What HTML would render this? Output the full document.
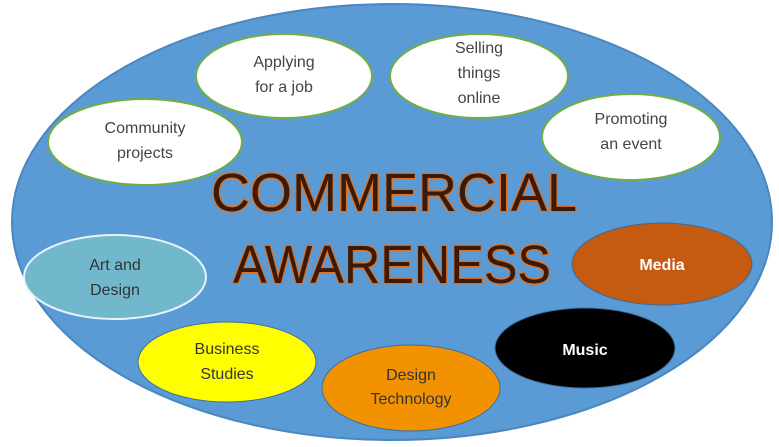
<!DOCTYPE html>
<html><head><meta charset="utf-8"><style>
html,body{margin:0;padding:0;background:#fff;}
svg{display:block;}
text{font-family:"Liberation Sans",sans-serif;}
</style></head><body>
<svg width="779" height="447" viewBox="0 0 779 447">
<ellipse cx="392" cy="222" rx="380" ry="218" fill="#5b9bd5" stroke="#4a86bf" stroke-width="2"/>
<g stroke="#70ad47" stroke-width="2" fill="#fff">
<ellipse cx="284" cy="76" rx="88" ry="42"/>
<ellipse cx="479" cy="76" rx="89" ry="42"/>
<ellipse cx="145" cy="142" rx="97" ry="43"/>
<ellipse cx="631" cy="137" rx="89" ry="43"/>
</g>
<ellipse cx="115" cy="277" rx="91" ry="42" fill="#72b8cc" stroke="#e8f2f8" stroke-width="2"/>
<ellipse cx="662" cy="264" rx="90" ry="41" fill="#c55a11" stroke="#3a6da0" stroke-width="1"/>
<ellipse cx="585" cy="348" rx="90" ry="40" fill="#000" stroke="#3a6da0" stroke-width="1"/>
<ellipse cx="227" cy="362" rx="89" ry="40" fill="#ffff00" stroke="#3a6da0" stroke-width="1"/>
<ellipse cx="411" cy="388" rx="89" ry="43" fill="#f39200" stroke="#3a6da0" stroke-width="1"/>
<g font-size="16" fill="#444" text-anchor="middle">
<text x="284" y="67">Applying</text><text x="284" y="92">for a job</text>
<text x="479" y="53">Selling</text><text x="479" y="78">things</text><text x="479" y="103">online</text>
<text x="145" y="133">Community</text><text x="145" y="158">projects</text>
<text x="631" y="124">Promoting</text><text x="631" y="149">an event</text>
<text x="115" y="270" fill="#333">Art and</text><text x="115" y="295" fill="#333">Design</text>
<text x="227" y="354" fill="#333">Business</text><text x="227" y="379" fill="#333">Studies</text>
<text x="411" y="380" fill="#333">Design</text><text x="411" y="404" fill="#333">Technology</text>
</g>
<g font-size="16" font-weight="bold" fill="#fff" text-anchor="middle">
<text x="662" y="270">Media</text>
<text x="585" y="355">Music</text>
</g>
<g font-size="54" fill="#3a1a08" stroke="#e07020" stroke-width="2.5" paint-order="stroke" text-anchor="middle">
<text x="394" y="211" textLength="366" lengthAdjust="spacingAndGlyphs">COMMERCIAL</text>
<text x="392" y="283" textLength="318" lengthAdjust="spacingAndGlyphs">AWARENESS</text>
</g>
</svg>
</body></html>
